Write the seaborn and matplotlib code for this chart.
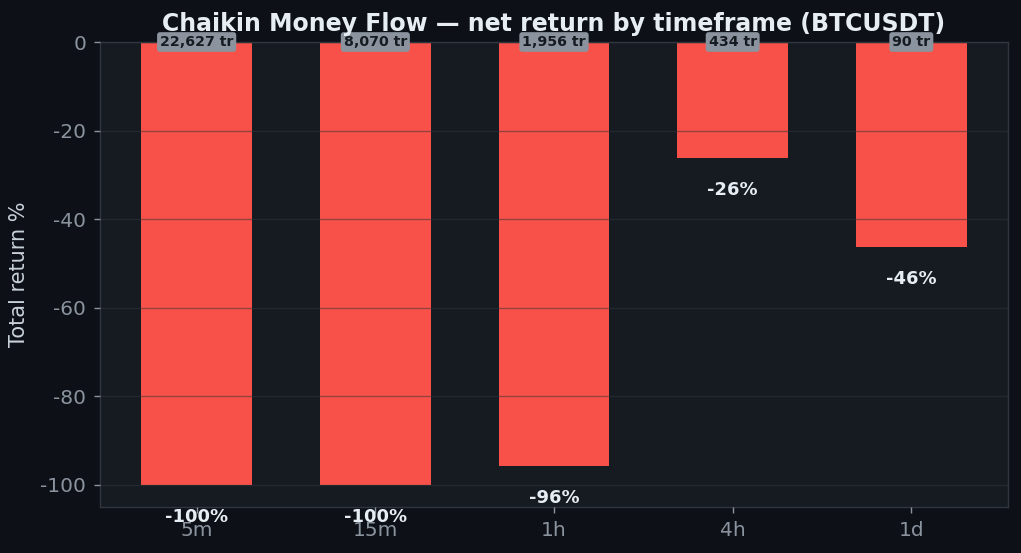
import matplotlib
matplotlib.use("Agg")
import matplotlib.pyplot as plt
import seaborn as sns
import pandas as pd

timeframes = ["5m", "15m", "1h", "4h", "1d"]
returns = [-100.0, -100.0, -95.7, -26.2, -46.3]
value_labels = ["-100%", "-100%", "-96%", "-26%", "-46%"]
trade_labels = ["22,627 tr", "8,070 tr", "1,956 tr", "434 tr", "90 tr"]

BG = "#0d1117"
AX_BG = "#161b22"
RED = "#f85149"
GRID = "#30363d"
TICK = "#8b949e"
TEXT = "#e6edf3"

sns.set_theme(style="dark")
plt.rcParams["font.family"] = ["DejaVu Sans"]
plt.rcParams["axes.unicode_minus"] = False

df = pd.DataFrame({"tf": timeframes, "ret": returns})

fig = plt.figure(figsize=(10.21, 5.53), dpi=100, facecolor=BG)
ax = fig.add_axes([100/1021, 1-507/553, 908/1021, 465/553])
ax.set_facecolor(AX_BG)

sns.barplot(data=df, x="tf", y="ret", color=RED, width=0.62, saturation=1,
            ax=ax, zorder=2, linewidth=0, edgecolor="none")
ax.set_xlim(-0.541, 4.541)
ax.set_ylim(-105, 0)

ax.yaxis.grid(True, color=GRID, linewidth=1, alpha=0.5, zorder=3)
ax.set_axisbelow(False)
ax.xaxis.grid(False)

for i, (v, lab, tr) in enumerate(zip(returns, value_labels, trade_labels)):
    ax.text(i, v - 7.2, lab, ha="center", va="center", color=TEXT,
            fontsize=13, fontweight="bold", clip_on=False, zorder=5)
    ax.text(i, 0, tr, ha="center", va="center", color="#161b22",
            fontsize=10.2, fontweight="bold", clip_on=False, zorder=6,
            bbox=dict(boxstyle="round,pad=0.2", fc="#8b949e", ec="none"))

ax.set_xlabel("")
ax.set_ylabel("Total return %", color="#c9d1d9", fontsize=15, labelpad=8)
ax.tick_params(axis="both", colors=TICK, labelsize=14.5, length=4, width=1,
               bottom=True, left=True, pad=6)
ax.set_yticks([0, -20, -40, -60, -80, -100])
for s in ax.spines.values():
    s.set_color(GRID)
    s.set_visible(True)
    s.set_linewidth(1)

fig.suptitle("Chaikin Money Flow — net return by timeframe (BTCUSDT)",
             x=554/1021, y=1-24/553, va="center", color=TEXT,
             fontsize=17, fontweight="bold")

fig.savefig("out.png", dpi=100, facecolor=BG)
